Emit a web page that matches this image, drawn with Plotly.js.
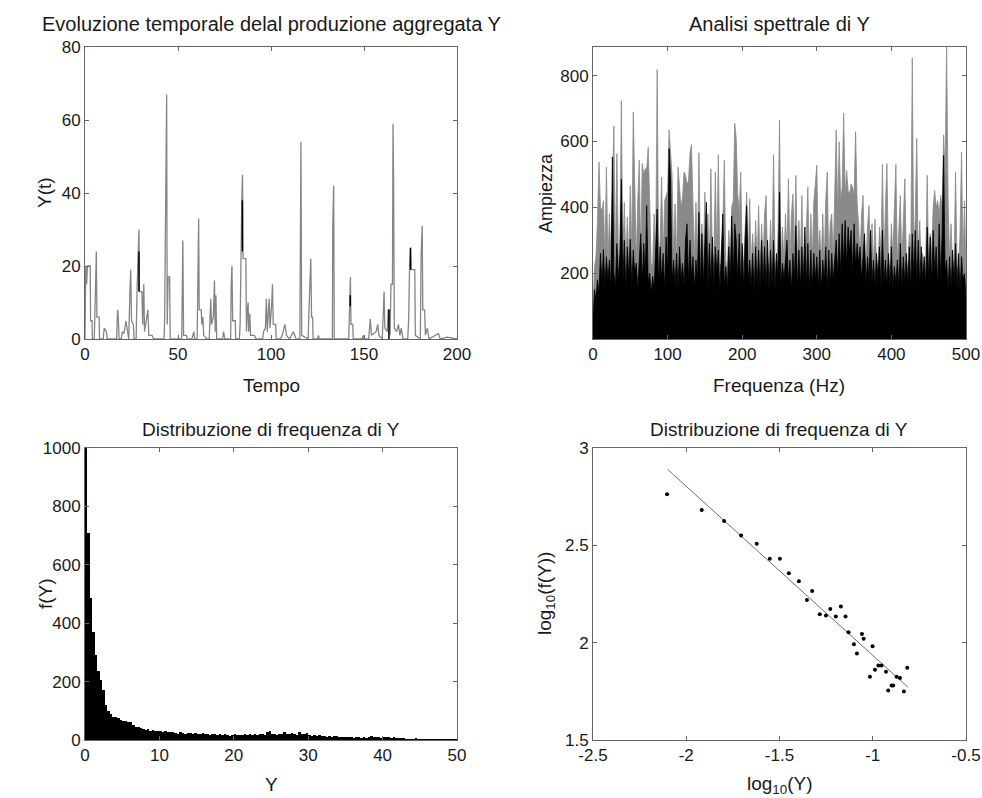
<!DOCTYPE html>
<html>
<head>
<meta charset="utf-8">
<script src="https://cdn.plot.ly/plotly-3.0.1.min.js"></script>
<style>html,body{margin:0;padding:0;background:#fff;}#chart{width:982px;height:798px;}</style>
</head>
<body>
<div id="chart"></div>
<script>
// ---------- Panel 1: time series Y(t) ----------
const tempo = [
  0,0.4,0.9,1.3,2.8,3.0,3.8,4.0,
  5.0,5.2,5.8,6.1,6.4,7.6,7.8,
  9.8,10.3,11.5,12,
  17,17.5,17.9,18.3,
  19.5,20,21,22,22.8,23.5,
  24.2,24.6,25,26,26.4,
  27.5,28,28.6,29,29.3,30.6,31,31.6,32,33.8,34.3,36,37,
  42.5,42.8,43.2,43.6,43.9,44.2,44.7,45.5,45.8,
  52,52.2,52.6,53,54.5,55,
  57.5,58.5,59,
  60.3,60.6,61.1,61.4,62.5,62.8,63.4,63.8,65.5,
  66.8,67.2,67.6,68,69,69.6,70,70.4,70.8,
  74,74.5,75.2,
  78.3,78.6,79,79.4,80.8,81,
  83,83.4,83.8,84.3,84.7,85,86.5,86.8,87.3,87.7,88,88.6,89,91,92,
  95.5,96,97,97.5,98,99,99.5,100.4,100.8,101.2,102.5,102.8,
  105,106,107.5,108.3,110,112,113.5,
  115.5,115.8,116.1,116.5,
  120,120.3,121,121.4,121.8,122.4,122.6,
  125,125.5,126,
  133,133.2,133.7,134,
  141.8,142.1,142.5,142.7,143,144,144.2,
  149,149.5,150,
  152.5,153,153.4,154,156.5,157.4,158,
  159.8,160.3,160.8,161.2,162.5,163,163.6,164,164.5,165.3,165.6,165.9,166.3,167.5,168.5,169.3,170,171,
  173.5,174,174.5,175,175.4,177.3,177.6,
  180.3,180.7,181.3,181.6,182.6,183,184,185,
  190,191,195,200
];
const produzione = [
  0,20,15,20,20,5,5,0,
  0,6,18,24,6,6,0,
  0,3,2,0,
  0,8,6,0,
  0,2,1.5,5,2,0,
  14,19,5,4,0,
  0,14,25,30,13,13,4,15,2,8,1,1,0,
  0,5,30,55,67,4,17,17,0,
  0,20,27,1,1,0,
  0,2,0,
  0,24,33,8,8,4,6,1,0,
  0,10,11,4,6,16,2,12,0,
  0,2,0,
  0,15,20,5,5,0,
  0,4,24,38,45,22,22,2,8,10,2,7,1,1,0,
  0,2,3,11,2,11,3,10,15,4,4,0,
  0,1,4,1,0,2,0,
  0,41,54,1,
  0,6,17,22,6,6,0,
  0,1,0,
  0,31,42,0,
  0,9,12,17,4,4,0,
  0,1,0,
  0,3,5.5,1,2,4,1,
  0,9,13,3,2,8,8,1,15,15,59,44,3,2,4,1,3,0,
  0,5,20,25,19,19,1,
  0,23,31,8,8,1,3,0,
  1.5,0,0.5,0
];
// darker (black) segments visible inside some peaks
const tempoNero = [29,29,null,84.6,84.6,null,142.6,142.6,null,163.4,163.4,null,175,175];
const produzioneNera = [13,24,null,24,38,null,9,12,null,0,8,null,19,25];

// ---------- Panel 2: spectrum (2 Hz steps from 0 to 500 Hz) ----------
const ampiezzaGrigia = [
  100,220,250,360,538,400,390,420,240,522,
  230,380,250,480,647,230,563,260,240,724,
  250,415,230,370,240,466,260,690,400,240,
  420,543,250,533,500,517,517,582,420,220,
  230,380,240,818,230,300,492,250,420,440,
  450,635,580,497,260,410,230,522,460,400,
  430,507,497,470,480,563,590,380,240,415,
  230,566,240,350,230,446,240,380,230,517,
  260,240,507,250,560,230,220,350,543,240,
  210,330,240,400,420,655,609,440,380,507,
  260,230,360,446,240,426,220,320,230,360,
  230,405,210,350,240,380,436,230,220,360,
  230,560,240,210,320,665,220,340,230,380,
  260,487,230,380,440,260,497,230,360,230,
  436,230,210,340,461,230,380,240,420,470,
  528,260,330,230,380,230,420,507,230,350,
  380,240,420,635,380,599,420,460,686,440,
  512,450,440,471,460,440,630,420,350,240,
  380,436,240,220,340,405,230,350,220,364,
  240,210,340,260,530,230,400,533,240,210,
  350,250,400,530,230,350,436,230,380,487,
  240,210,320,260,854,240,380,609,240,359,
  210,260,200,240,497,210,320,260,400,451,
  400,420,380,436,400,620,500,900,420,240,
  350,210,240,507,220,210,320,568,240,420,
  200
];
const ampiezzaNera = [
  60,150,120,180,140,260,170,272,160,250,
  180,240,150,553,200,160,290,180,260,485,
  170,300,150,280,190,303,160,270,200,230,
  150,260,320,170,290,190,405,170,200,140,
  190,150,260,395,160,280,180,260,150,310,
  200,578,480,170,240,160,260,150,280,180,
  230,160,300,350,170,300,190,250,150,240,
  180,385,160,320,170,300,415,150,290,170,
  310,150,280,200,270,140,250,380,160,220,
  150,280,170,374,190,350,300,180,320,160,
  290,150,300,405,170,240,160,260,140,280,
  160,270,150,300,170,280,150,300,140,270,
  160,300,150,260,180,446,160,230,180,250,
  300,170,240,150,260,180,344,150,270,160,
  280,170,340,160,290,150,270,160,260,180,
  250,160,270,150,240,180,280,150,270,160,
  260,180,240,300,190,320,200,350,230,360,
  220,340,260,330,200,350,220,290,230,280,
  180,260,320,160,250,180,330,170,240,160,
  260,180,280,150,330,170,240,160,260,150,
  280,150,220,170,240,160,290,150,250,170,
  260,160,280,150,320,190,330,170,300,160,
  280,180,250,160,340,180,310,170,330,200,
  280,160,350,180,320,558,200,240,150,250,
  150,270,160,290,150,260,140,250,180,200,
  130
];

// ---------- Panel 3: histogram f(Y), bins of width 1/3 from 0 to 50 ----------
const frequenzaY = [
  1400,708,485,370,290,238,205,170,120,100,
  90,80,78,75,70,66,65,62,60,50,
  45,45,40,38,35,36,32,34,30,32,
  30,28,30,27,29,26,
  25,22,26,24,21,25,23,20,24,22,19,23,
  20,22,18,21,19,17,20,18,22,16,15,17,19,16,18,
  17,19,16,20,18,21,17,19,22,18,26,30,
  22,20,18,21,19,28,22,20,24,19,17,26,20,22,24,
  18,15,16,14,17,13,15,12,14,11,13,15,12,10,12,
  10,9,11,8,10,9,7,10,8,9,13,11,10,9,8,
  10,9,11,8,10,7,8,6,7,5,
  5,4,5,6,4,3,5,4,3,4,5,3,4,3,2,3,4,2,3,2
];

// ---------- Panel 4: log-log distribution ----------
const logY = [-2.103,-1.917,-1.797,-1.706,-1.622,-1.552,-1.498,-1.450,-1.396,-1.325,
  -1.353,-1.284,-1.251,-1.228,-1.198,-1.171,-1.146,-1.130,-1.101,-1.085,
  -1.058,-1.049,-1.015,-1.001,-0.988,-0.970,-0.953,-0.929,-0.917,-0.899,
  -0.890,-0.872,-0.854,-0.833,-0.815];
const logF = [2.763,2.681,2.625,2.551,2.508,2.431,2.431,2.356,2.315,2.266,
  2.219,2.146,2.139,2.173,2.134,2.186,2.134,2.054,1.992,1.944,
  2.044,2.020,1.825,1.981,1.861,1.883,1.883,1.851,1.754,1.780,
  1.780,1.825,1.819,1.749,1.871];
const fitX = [-2.1, -0.81];
const fitY = [2.89, 1.77];

// tick labels
const ticks4x = [-2.5,-2,-1.5,-1,-0.5];
const ticks4xText = ['-2.5','-2','-1.5','-1','-0.5'];

// ---------- layout helpers ----------
const W = 982, H = 798;
const FONT = 'Liberation Sans, Arial, sans-serif';
const fx = v => v / W;
const fy = v => 1 - v / H;

const traces = [
  {type:'scatter', mode:'lines', x:tempo, y:produzione, xaxis:'x', yaxis:'y',
   line:{color:'#858585', width:1.3}, hoverinfo:'skip'},
  {type:'scatter', mode:'lines', x:tempoNero, y:produzioneNera, xaxis:'x', yaxis:'y',
   line:{color:'#000', width:1.5}, connectgaps:false, hoverinfo:'skip'},
  {type:'scatter', mode:'lines', x0:0, dx:2, y:ampiezzaGrigia, xaxis:'x2', yaxis:'y2',
   fill:'tozeroy', fillcolor:'#8a8a8a', line:{color:'#8a8a8a', width:0.8}, hoverinfo:'skip'},
  {type:'scatter', mode:'lines', x0:0, dx:2, y:ampiezzaNera, xaxis:'x2', yaxis:'y2',
   fill:'tozeroy', fillcolor:'#000', line:{color:'#000', width:0.8}, hoverinfo:'skip'},
  {type:'bar', x0:1/6, dx:1/3, y:frequenzaY, xaxis:'x3', yaxis:'y3',
   marker:{color:'#000', line:{width:0}}, hoverinfo:'skip'},
  {type:'scatter', mode:'lines', x:fitX, y:fitY, xaxis:'x4', yaxis:'y4',
   line:{color:'#707070', width:1}, hoverinfo:'skip'},
  {type:'scatter', mode:'markers', x:logY, y:logF, xaxis:'x4', yaxis:'y4',
   marker:{color:'#000', size:4}, hoverinfo:'skip'}
];

function ax(domain, range, extra) {
  return Object.assign({
    domain: domain, range: range, autorange:false,
    showline:true, linecolor:'#666', linewidth:1, mirror:'ticks',
    ticks:'inside', ticklen:4, tickcolor:'#666', tickwidth:1,
    showgrid:false, zeroline:false, automargin:false,
    tickfont:{family:FONT, size:17, color:'#1a1a1a'}
  }, extra || {});
}

const xL = [fx(85), fx(457)], xR = [fx(593), fx(966)];
const yT = [fy(339), fy(47)], yB = [fy(740), fy(448)];

function ann(text, x, y, angle, size) {
  return {text:text, x:fx(x), y:fy(y), xref:'paper', yref:'paper',
    xanchor:'center', yanchor:'middle', showarrow:false, textangle:angle||0,
    font:{family:FONT, size:size||19, color:'#1a1a1a'}};
}

const layout = {
  width: W, height: H, autosize:false,
  margin:{l:0, r:0, t:0, b:0, pad:0},
  paper_bgcolor:'#fff', plot_bgcolor:'#fff',
  showlegend:false, bargap:0,
  xaxis:  ax(xL, [0,200], {anchor:'y', tickvals:[0,50,100,150,200]}),
  yaxis:  ax(yT, [0,80], {anchor:'x', tickvals:[0,20,40,60,80]}),
  xaxis2: ax(xR, [0,500], {anchor:'y2', tickvals:[0,100,200,300,400,500]}),
  yaxis2: ax(yT, [0,887], {anchor:'x2', tickvals:[200,400,600,800]}),
  xaxis3: ax(xL, [0,50], {anchor:'y3', tickvals:[0,10,20,30,40,50]}),
  yaxis3: ax(yB, [0,1000], {anchor:'x3', tickvals:[0,200,400,600,800,1000]}),
  xaxis4: ax(xR, [-2.5,-0.5], {anchor:'y4', tickvals:ticks4x, ticktext:ticks4xText}),
  yaxis4: ax(yB, [1.5,3], {anchor:'x4', tickvals:[1.5,2,2.5,3], ticktext:['1.5','2','2.5','3']}),
  annotations: [
    ann('Evoluzione temporale delal produzione aggregata Y', 271, 24, 0, 20),
    ann('Analisi spettrale di Y', 779, 24, 0, 20),
    ann('Distribuzione di frequenza di Y', 271, 429, 0, 19),
    ann('Distribuzione di frequenza di Y', 779, 429, 0, 19),
    ann('Tempo', 271, 386),
    ann('Frequenza (Hz)', 779, 386),
    ann('Y', 271, 784),
    ann('log<sub>10</sub>(Y)', 779, 785),
    ann('Y(t)', 45, 193, -90),
    ann('Ampiezza', 546, 193, -90, 18),
    ann('f(Y)', 45, 594, -90),
    ann('log<sub>10</sub>(f(Y))', 546, 594, -90)
  ]
};

Plotly.newPlot('chart', traces, layout, {staticPlot:true, displayModeBar:false});
</script>
</body>
</html>
